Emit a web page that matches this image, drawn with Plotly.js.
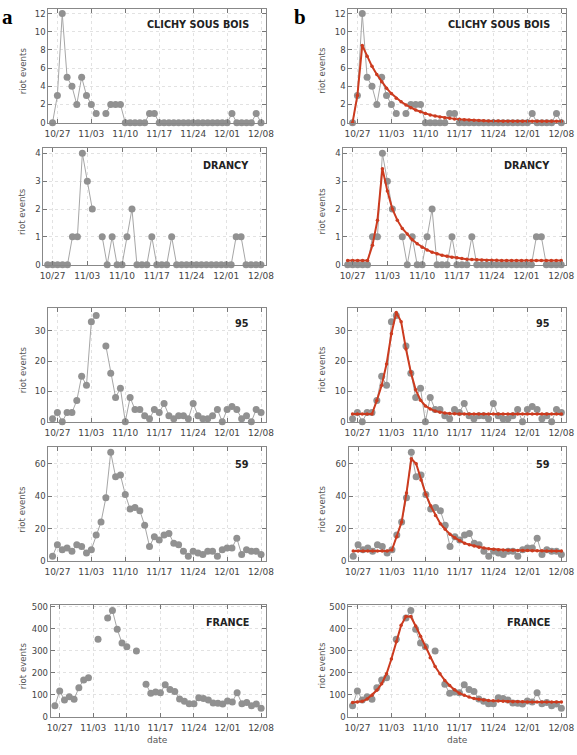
<!DOCTYPE html>
<html><head><meta charset="utf-8">
<script src="https://cdn.plot.ly/plotly-3.0.1.min.js"></script>
<style>html,body{margin:0;padding:0;background:#fff}#chart{width:577px;height:755px}</style>
</head><body><div id="chart"></div>
<script>
const dates = ["2005-10-26","2005-10-27","2005-10-28","2005-10-29","2005-10-30","2005-10-31",
"2005-11-01","2005-11-02","2005-11-03","2005-11-04","2005-11-05","2005-11-06","2005-11-07","2005-11-08","2005-11-09","2005-11-10",
"2005-11-11","2005-11-12","2005-11-13","2005-11-14","2005-11-15","2005-11-16","2005-11-17","2005-11-18","2005-11-19","2005-11-20",
"2005-11-21","2005-11-22","2005-11-23","2005-11-24","2005-11-25","2005-11-26","2005-11-27","2005-11-28","2005-11-29","2005-11-30",
"2005-12-01","2005-12-02","2005-12-03","2005-12-04","2005-12-05","2005-12-06","2005-12-07","2005-12-08"];

const clichy = [0,3,12,5,4,2,5,3,2,1,null,1,2,2,2,0,0,0,0,0,1,1,0,0,0,0,0,0,0,0,0,0,0,0,0,0,0,1,0,0,0,0,1,0];
const drancy = [0,0,0,0,0,1,1,4,3,2,null,1,0,1,0,0,1,2,0,0,0,1,0,0,0,1,0,0,0,0,0,0,0,0,0,0,0,0,1,1,0,0,0,0];
const dep95 = [1,3,0,3,3,7,15,12,33,35,null,25,16,8,11,0,8,4,4,2,1,4,3,6,2,1,2,2,1,6,2,1,1,2,4,0,4,5,4,1,2,0,4,3];
const dep59 = [3,10,7,8,6,10,9,5,7,16,24,39,67,52,53,41,32,33,31,22,9,15,13,16,17,11,10,6,3,6,5,4,6,6,3,7,8,8,14,4,7,6,6,4];
const france = [50,117,76,91,79,132,167,177,null,352,null,448,482,397,335,318,null,298,null,148,106,112,109,145,124,115,80,70,59,59,86,83,76,62,61,58,71,67,109,59,64,50,58,38];

const clichyFit = [0,3,8.5,7.3,6.2,5.3,4.5,3.8,3.2,2.7,2.3,1.95,1.65,1.4,1.2,1.0,0.86,0.74,0.64,0.55,0.48,0.42,0.37,0.33,0.29,0.26,0.24,0.22,0.2,0.19,0.18,0.17,0.17,0.16,0.16,0.15,0.15,0.15,0.15,0.15,0.15,0.15,0.15,0.15];
const drancyFit = [0.15,0.15,0.15,0.15,0.15,0.7,1.6,3.45,2.65,2.0,1.6,1.3,1.1,0.9,0.75,0.63,0.53,0.45,0.39,0.34,0.3,0.27,0.25,0.22,0.2,0.19,0.18,0.17,0.16,0.16,0.16,0.15,0.15,0.15,0.15,0.15,0.15,0.15,0.15,0.15,0.15,0.15,0.15,0.15];
const dep95Fit = [2.5,2.5,2.5,2.5,2.5,7,12,19,29,36,33,24,16.3,10.5,7.1,5.2,4.2,3.5,3.1,2.9,2.7,2.6,2.5,2.5,2.5,2.5,2.5,2.5,2.5,2.5,2.5,2.5,2.5,2.5,2.5,2.5,2.5,2.5,2.5,2.5,2.5,2.5,2.5,2.5];
const dep59Fit = [6.2,6.2,6.2,6.2,6.2,6.2,6.2,6.2,6.8,15,24,42,63,60,50,41,34,28,23,19.5,16.5,14.3,12.5,11,10,9.2,8.5,8,7.6,7.3,7.0,6.8,6.7,6.6,6.5,6.4,6.4,6.3,6.3,6.3,6.2,6.2,6.2,6.2];
const franceFit = [65,67,70,80,98,120,150,195,262,340,415,455,455,412,365,315,268,228,195,165,142,122,107,97,89,83,79,76,74,72,71,70,69,68,68,68,67,67,67,67,67,67,67,67];

const names = ["CLICHY SOUS BOIS","DRANCY","95","59","FRANCE"];
const yTitle = "riot events";
const xTitle = "date";
const xTickFormat = "%m/%d";

const W = 577, H = 755;
const rows = [
  {data: clichy, fit: clichyFit, yr: [0, 12.5], dt: 2, y: [9, 122.7], xl: [48.3, 348.3], ty: 25},
  {data: drancy, fit: drancyFit, yr: [0, 4.18], dt: 1, y: [148.3, 264.7], xl: [43.3, 343.3], ty: 165},
  {data: dep95, fit: dep95Fit, yr: [0, 37.6], dt: 10, y: [307.7, 421.7], xl: [48.3, 348.3], ty: 324},
  {data: dep59, fit: dep59Fit, yr: [0, 70.1], dt: 20, y: [447.3, 561], xl: [48.3, 349], ty: 464},
  {data: france, fit: franceFit, yr: [0, 507.5], dt: 100, y: [605, 716.7], xl: [50.7, 348.3], ty: 622}
];
const rightEdge = [265.7, 566];

const grey = '#919191', greyLine = '#a6a6a6', red = '#cc3b1f';
const xTickFont = {family: 'DejaVu Sans, sans-serif', size: 9, color: '#444'};
const yTickFont = {family: 'DejaVu Sans, sans-serif', size: 8.5, color: '#444'};
const traces = [];
const layout = {
  width: W, height: H, margin: {l: 0, r: 0, t: 0, b: 0},
  paper_bgcolor: '#fff', plot_bgcolor: '#fff', showlegend: false,
  annotations: []
};
const px = v => v / W, py = v => 1 - v / H;

let k = 0;
rows.forEach((r, ri) => {
  [0, 1].forEach(col => {
    k++;
    const xa = 'x' + (k === 1 ? '' : k), ya = 'y' + (k === 1 ? '' : k);
    const xkey = 'xaxis' + (k === 1 ? '' : k), ykey = 'yaxis' + (k === 1 ? '' : k);
    traces.push({
      x: dates, y: r.data, xaxis: xa, yaxis: ya, type: 'scatter', mode: 'lines+markers',
      connectgaps: false, cliponaxis: false,
      line: {color: greyLine, width: 1}, marker: {color: grey, size: 7}, hoverinfo: 'skip'
    });
    if (col === 1) {
      traces.push({
        x: dates, y: r.fit, xaxis: xa, yaxis: ya, type: 'scatter', mode: 'lines+markers',
        cliponaxis: false, line: {color: red, width: 2}, marker: {color: red, size: 3.5}, hoverinfo: 'skip'
      });
    }
    layout[xkey] = {
      domain: [px(r.xl[col]), px(rightEdge[col])], anchor: ya, type: 'date',
      range: ['2005-10-25 03:00', '2005-12-08 23:00'],
      tick0: '2005-10-27', dtick: 7 * 86400000, tickformat: xTickFormat,
      ticks: 'inside', ticklen: 4, tickcolor: '#777', showline: true, linecolor: '#888', linewidth: 1,
      mirror: 'ticks', showgrid: true, gridcolor: '#e2e2e2', griddash: 'dot', zeroline: false,
      tickfont: xTickFont, ticklabelstandoff: 2, fixedrange: true
    };
    layout[ykey] = {
      domain: [py(r.y[1]), py(r.y[0])], anchor: xa, range: r.yr, dtick: r.dt, tick0: 0,
      ticks: 'inside', ticklen: 4, tickcolor: '#777', showline: true, linecolor: '#888', linewidth: 1,
      mirror: 'ticks', showgrid: true, gridcolor: '#e2e2e2', griddash: 'dot', zeroline: false,
      tickfont: yTickFont, ticklabelstandoff: 0, fixedrange: true
    };
    layout.annotations.push({
      text: '<b>' + names[ri] + '</b>', xref: 'paper', yref: 'paper',
      x: px(col === 0 ? 251 : 552), y: py(r.ty), xanchor: 'right', yanchor: 'middle',
      showarrow: false, font: {family: 'DejaVu Sans, sans-serif', size: 9.7, color: '#222'}
    });
    layout.annotations.push({
      text: yTitle, xref: 'paper', yref: 'paper', textangle: -90,
      x: px(col === 0 ? 22.5 : 322), y: py((r.y[0] + r.y[1]) / 2 + 5), xanchor: 'center', yanchor: 'middle',
      showarrow: false, font: {family: 'DejaVu Sans, sans-serif', size: 8.6, color: '#555'}
    });
    if (ri === rows.length - 1) {
      layout.annotations.push({
        text: xTitle, xref: 'paper', yref: 'paper',
        x: px(col === 0 ? 157 : 457), y: py(740), xanchor: 'center', yanchor: 'middle',
        showarrow: false, font: {family: 'DejaVu Sans, sans-serif', size: 9, color: '#555'}
      });
    }
  });
});
layout.annotations.push({
  text: '<b>a</b>', xref: 'paper', yref: 'paper', x: px(0), y: py(17), xanchor: 'left', yanchor: 'middle',
  showarrow: false, font: {family: 'Liberation Serif, serif', size: 21, color: '#000'}
});
layout.annotations.push({
  text: '<b>b</b>', xref: 'paper', yref: 'paper', x: px(292), y: py(17), xanchor: 'left', yanchor: 'middle',
  showarrow: false, font: {family: 'Liberation Serif, serif', size: 21, color: '#000'}
});

Plotly.newPlot('chart', traces, layout, {staticPlot: true, displayModeBar: false});
</script>
</body></html>
